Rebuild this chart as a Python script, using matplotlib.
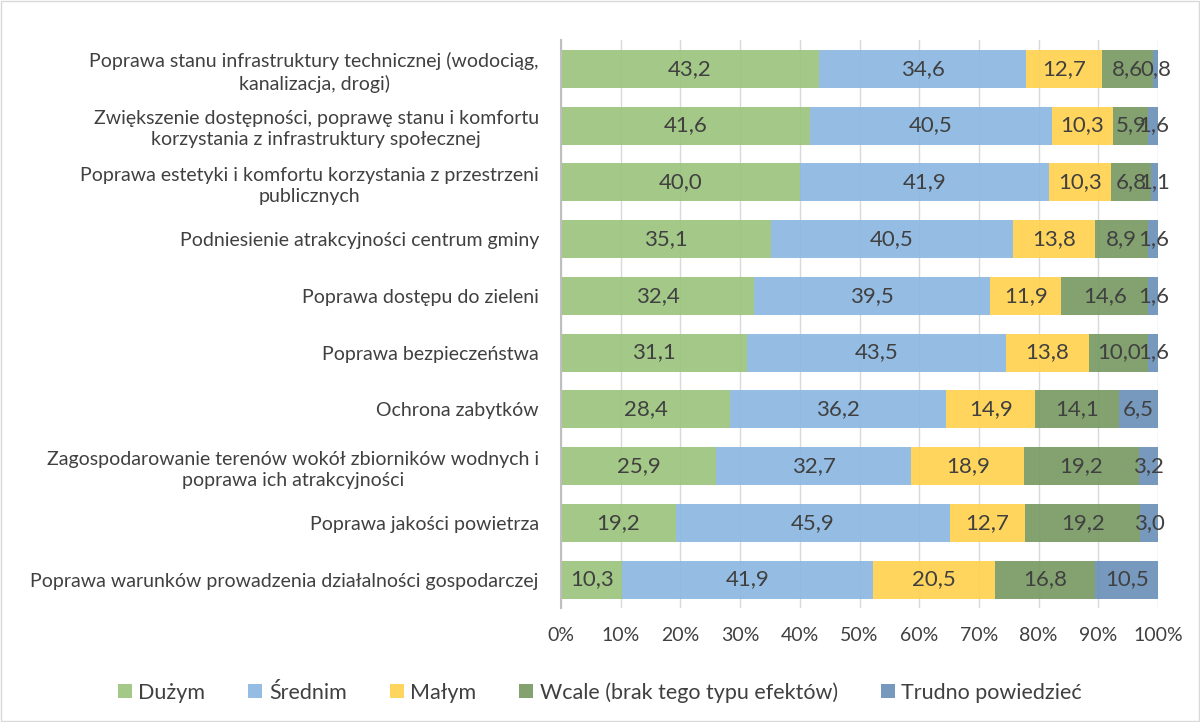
import numpy as np
import matplotlib.pyplot as plt
from matplotlib.ticker import PercentFormatter

plt.rcParams["font.family"] = ["Lato", "DejaVu Sans"]

categories = [
    "Poprawa stanu infrastruktury technicznej (wodociąg,\nkanalizacja, drogi)",
    "Zwiększenie dostępności, poprawę stanu i komfortu\nkorzystania z infrastruktury społecznej",
    "Poprawa estetyki i komfortu korzystania z przestrzeni\npublicznych",
    "Podniesienie atrakcyjności centrum gminy",
    "Poprawa dostępu do zieleni",
    "Poprawa bezpieczeństwa",
    "Ochrona zabytków",
    "Zagospodarowanie terenów wokół zbiorników wodnych i\npoprawa ich atrakcyjności",
    "Poprawa jakości powietrza",
    "Poprawa warunków prowadzenia działalności gospodarczej",
]

series_names = ["Dużym", "Średnim", "Małym", "Wcale (brak tego typu efektów)", "Trudno powiedzieć"]
duzym = [43.2, 41.6, 40.0, 35.1, 32.4, 31.1, 28.4, 25.9, 19.2, 10.3]
srednim = [34.6, 40.5, 41.9, 40.5, 39.5, 43.5, 36.2, 32.7, 45.9, 41.9]
malym = [12.7, 10.3, 10.3, 13.8, 11.9, 13.8, 14.9, 18.9, 12.7, 20.5]
wcale = [8.6, 5.9, 6.8, 8.9, 14.6, 10.0, 14.1, 19.2, 19.2, 16.8]
trudno = [0.8, 1.6, 1.1, 1.6, 1.6, 1.6, 6.5, 3.2, 3.0, 10.5]

colors = ["#9bc47d", "#8cb8e2", "#ffd24f", "#789a64", "#6a90b8"]

values = np.array([duzym, srednim, malym, wcale, trudno])
shares = values / values.sum(axis=0)  # 100% stacked

fig = plt.figure(figsize=(12, 7.22), dpi=100)
ax = fig.add_axes([0.4675, 0.158, 0.4975, 0.786])

y = np.arange(len(categories))
left = np.zeros(len(categories))
for name, vals, share, color in zip(series_names, values, shares, colors):
    bars = ax.barh(y, share, left=left, height=0.67, color=color, label=name,
                   alpha=0.92, zorder=2)
    labels = [f"{v:.1f}".replace(".", ",") for v in vals]
    ax.bar_label(bars, labels=labels, label_type="center", fontsize=16,
                 color="#404040", zorder=4)
    left += share

ax.set_xlim(0, 1)
ax.set_ylim(len(categories) - 0.5, -0.5)
ax.set_yticks(y)
ax.set_yticklabels(categories, fontsize=14, color="#404040", linespacing=1.3,
                   multialignment="center")
ax.set_xticks(np.linspace(0, 1, 11))
ax.xaxis.set_major_formatter(PercentFormatter(1.0, decimals=0))
ax.tick_params(axis="x", labelsize=14, colors="#404040", length=0, pad=14)
ax.tick_params(axis="y", length=0, pad=16)
ax.grid(axis="x", color="#d9d9d9", linewidth=1, zorder=0)
for side in ["top", "right", "bottom"]:
    ax.spines[side].set_visible(False)
ax.spines["left"].set_color("#bfbfbf")
ax.spines["left"].set_linewidth(1.5)

fig.legend(loc="lower center", bbox_to_anchor=(0.5, 0.0), ncol=5, frameon=False,
           fontsize=15.5, handlelength=0.65, handleheight=0.65, handletextpad=0.3,
           columnspacing=2.0, labelcolor="#404040")

fig.patches.append(plt.Rectangle((0.001, 0.001), 0.998, 0.998, transform=fig.transFigure,
                                 fill=False, edgecolor="#d9d9d9", linewidth=1))

fig.savefig("out.png", dpi=100)
